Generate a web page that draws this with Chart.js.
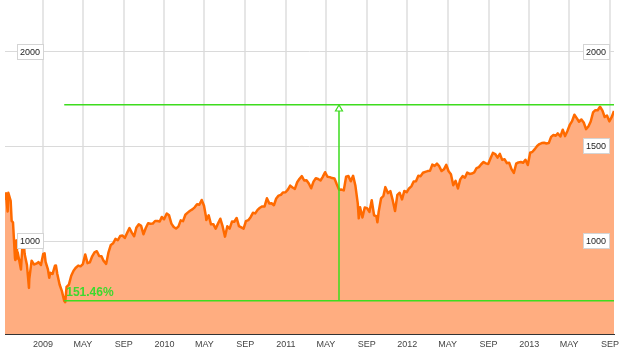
<!DOCTYPE html>
<html>
<head>
<meta charset="utf-8">
<script src="https://cdn.jsdelivr.net/npm/chart.js@4"></script>
<style>
  html, body { margin: 0; padding: 0; background: #fff; }
  #wrap { width: 627px; height: 353px; }
</style>
</head>
<body>
<div id="wrap"><canvas id="chart" width="627" height="353"></canvas></div>
<script>
// S&P 500, Sep 2008 - Sep 2013
const dates = [
  '2008-09-09','2008-09-12','2008-09-15','2008-09-17','2008-09-19','2008-09-26','2008-09-29','2008-10-03',
  '2008-10-09','2008-10-10','2008-10-13','2008-10-15','2008-10-17','2008-10-24','2008-10-27','2008-10-31',
  '2008-11-04','2008-11-07','2008-11-14','2008-11-20','2008-11-21','2008-11-28','2008-12-05','2008-12-12',
  '2008-12-19','2008-12-26',
  '2009-01-02','2009-01-06','2009-01-09','2009-01-16','2009-01-20','2009-01-23','2009-01-30','2009-02-06',
  '2009-02-09','2009-02-13','2009-02-20','2009-02-27','2009-03-06','2009-03-09','2009-03-13','2009-03-20',
  '2009-03-27','2009-04-03','2009-04-09','2009-04-17','2009-04-24','2009-05-01','2009-05-08','2009-05-15',
  '2009-05-22','2009-05-29','2009-06-05','2009-06-12','2009-06-19','2009-06-26','2009-07-02','2009-07-10',
  '2009-07-17','2009-07-24','2009-07-31','2009-08-07','2009-08-14','2009-08-21','2009-08-28','2009-09-04',
  '2009-09-11','2009-09-18','2009-09-25','2009-10-02','2009-10-09','2009-10-16','2009-10-23','2009-10-30',
  '2009-11-06','2009-11-13','2009-11-20','2009-11-27','2009-12-04','2009-12-11','2009-12-18','2009-12-24',
  '2009-12-31',
  '2010-01-08','2010-01-15','2010-01-22','2010-01-29','2010-02-05','2010-02-12','2010-02-19','2010-02-26',
  '2010-03-05','2010-03-12','2010-03-19','2010-03-26','2010-04-02','2010-04-09','2010-04-16','2010-04-23',
  '2010-04-30','2010-05-06','2010-05-07','2010-05-14','2010-05-21','2010-05-28','2010-06-04','2010-06-11',
  '2010-06-18','2010-06-25','2010-07-02','2010-07-09','2010-07-16','2010-07-23','2010-07-30','2010-08-06',
  '2010-08-13','2010-08-20','2010-08-27','2010-09-03','2010-09-10','2010-09-17','2010-09-24','2010-10-01',
  '2010-10-08','2010-10-15','2010-10-22','2010-10-29','2010-11-05','2010-11-12','2010-11-19','2010-11-26',
  '2010-12-03','2010-12-10','2010-12-17','2010-12-23','2010-12-31',
  '2011-01-07','2011-01-14','2011-01-21','2011-01-28','2011-02-04','2011-02-11','2011-02-18','2011-02-25',
  '2011-03-04','2011-03-11','2011-03-18','2011-03-25','2011-04-01','2011-04-08','2011-04-15','2011-04-21',
  '2011-04-29','2011-05-06','2011-05-13','2011-05-20','2011-05-27','2011-06-03','2011-06-10','2011-06-17',
  '2011-06-24','2011-07-01','2011-07-08','2011-07-15','2011-07-22','2011-07-29','2011-08-05','2011-08-08',
  '2011-08-12','2011-08-19','2011-08-26','2011-09-02','2011-09-09','2011-09-16','2011-09-23','2011-09-30',
  '2011-10-03','2011-10-07','2011-10-14','2011-10-21','2011-10-27','2011-11-04','2011-11-11','2011-11-18',
  '2011-11-25','2011-12-02','2011-12-09','2011-12-16','2011-12-23','2011-12-30',
  '2012-01-06','2012-01-13','2012-01-20','2012-01-27','2012-02-03','2012-02-10','2012-02-17','2012-02-24',
  '2012-03-02','2012-03-09','2012-03-16','2012-03-23','2012-03-30','2012-04-05','2012-04-13','2012-04-20',
  '2012-04-27','2012-05-04','2012-05-11','2012-05-18','2012-05-25','2012-06-01','2012-06-08','2012-06-15',
  '2012-06-22','2012-06-29','2012-07-06','2012-07-13','2012-07-20','2012-07-27','2012-08-03','2012-08-10',
  '2012-08-17','2012-08-24','2012-08-31','2012-09-07','2012-09-14','2012-09-21','2012-09-28','2012-10-05',
  '2012-10-12','2012-10-19','2012-10-26','2012-11-02','2012-11-09','2012-11-16','2012-11-23','2012-11-30',
  '2012-12-07','2012-12-14','2012-12-21','2012-12-28',
  '2013-01-04','2013-01-11','2013-01-18','2013-01-25','2013-02-01','2013-02-08','2013-02-15','2013-02-22',
  '2013-03-01','2013-03-08','2013-03-15','2013-03-22','2013-03-28','2013-04-05','2013-04-12','2013-04-19',
  '2013-04-26','2013-05-03','2013-05-10','2013-05-17','2013-05-24','2013-05-31','2013-06-07','2013-06-14',
  '2013-06-21','2013-06-28','2013-07-05','2013-07-12','2013-07-19','2013-07-26','2013-08-02','2013-08-09',
  '2013-08-16','2013-08-23','2013-08-30','2013-09-06','2013-09-13'
];
const closes = [
  1224, 1252, 1193, 1156, 1255, 1213, 1106, 1099,
  910, 899, 1003, 908, 941, 877, 849, 969,
  1006, 931, 873, 752, 800, 896, 876, 880,
  888, 873,
  932, 935, 890, 850, 805, 832, 826, 869,
  870, 827, 770, 735, 683, 677, 757, 769,
  816, 843, 857, 870, 866, 878, 929, 883,
  887, 919, 940, 946, 921, 919, 896, 879,
  940, 979, 988, 1011, 1004, 1026, 1029, 1016,
  1043, 1068, 1044, 1025, 1072, 1088, 1080, 1036,
  1069, 1094, 1091, 1092, 1106, 1106, 1103, 1127,
  1115,
  1145, 1136, 1092, 1074, 1066, 1076, 1109, 1105,
  1139, 1150, 1160, 1167, 1178, 1194, 1192, 1217,
  1187, 1128, 1111, 1136, 1088, 1089, 1065, 1092,
  1118, 1077, 1023, 1078, 1065, 1103, 1102, 1122,
  1079, 1072, 1065, 1105, 1110, 1126, 1149, 1146,
  1165, 1176, 1183, 1183, 1226, 1199, 1200, 1189,
  1225, 1240, 1244, 1257, 1258,
  1272, 1293, 1283, 1276, 1311, 1329, 1343, 1320,
  1321, 1304, 1279, 1314, 1332, 1328, 1320, 1337,
  1364, 1340, 1338, 1333, 1331, 1300, 1271, 1272,
  1268, 1340, 1344, 1316, 1345, 1292, 1199, 1120,
  1179, 1124, 1177, 1174, 1154, 1216, 1136, 1131,
  1099, 1156, 1225, 1238, 1285, 1253, 1264, 1216,
  1159, 1244, 1255, 1220, 1265, 1258,
  1278, 1289, 1315, 1316, 1345, 1343, 1361, 1366,
  1370, 1371, 1404, 1397, 1409, 1398, 1370, 1379,
  1403, 1369, 1353, 1295, 1318, 1278, 1326, 1343,
  1335, 1362, 1355, 1357, 1363, 1386, 1391, 1406,
  1418, 1411, 1407, 1438, 1466, 1460, 1441, 1461,
  1429, 1433, 1412, 1414, 1380, 1360, 1409, 1416,
  1418, 1414, 1430, 1402,
  1467, 1472, 1486, 1503, 1513, 1518, 1520, 1516,
  1518, 1551, 1561, 1557, 1569, 1553, 1589, 1555,
  1582, 1614, 1634, 1668, 1650, 1631, 1643, 1627,
  1592, 1606, 1632, 1680, 1692, 1692, 1710, 1691,
  1656, 1664, 1633, 1655, 1688
];

// x axis ticks (month starts) and their labels
const tickDates = [
  '2009-01-01','2009-05-01','2009-09-01','2010-01-01','2010-05-01','2010-09-01',
  '2011-01-01','2011-05-01','2011-09-01','2012-01-01','2012-05-01','2012-09-01',
  '2013-01-01','2013-05-01','2013-09-01'
];
const tickLabels = ['2009','MAY','SEP','2010','MAY','SEP','2011','MAY','SEP','2012','MAY','SEP','2013','MAY','SEP'];

// y axis
const yGridValues = [1000, 1500, 2000];
const leftLabels = [2000, 1000];
const rightLabels = [2000, 1500, 1000];

// gain annotation
const gainText = '151.46%';
const gainStartDate = '2009-03-09';
const gainArrowDate = '2011-06-11';
const gainLow = 685;
const gainHigh = 1722;

const toDay = s => Date.parse(s + 'T00:00:00Z') / 864e5;
const points = dates.map((d, i) => ({ x: toDay(d), y: closes[i] }));

const green = '#3ddc1e';

const overlay = {
  id: 'overlay',
  afterDatasetsDraw(chart) {
    const { ctx, scales: { x, y }, chartArea } = chart;
    ctx.save();

    // gain lines
    const x0 = x.getPixelForValue(toDay(gainStartDate)) - 1;
    const x1 = chartArea.right;
    const yLo = Math.round(y.getPixelForValue(gainLow));
    const yHi = Math.round(y.getPixelForValue(gainHigh));
    const xa = Math.round(x.getPixelForValue(toDay(gainArrowDate)));
    ctx.fillStyle = green;
    ctx.fillRect(x0, yLo - 1, x1 - x0, 1.5);
    ctx.fillRect(x0, yHi - 1, x1 - x0, 1.5);
    ctx.fillRect(xa - 0.75, yHi, 1.5, yLo - yHi);
    // open arrow head
    ctx.strokeStyle = green;
    ctx.lineWidth = 1.2;
    ctx.fillStyle = '#fff';
    ctx.beginPath();
    ctx.moveTo(xa, yHi);
    ctx.lineTo(xa - 3.5, yHi + 6);
    ctx.lineTo(xa + 3.5, yHi + 6);
    ctx.closePath();
    ctx.fill();
    ctx.stroke();

    ctx.fillStyle = '#3ed92e';
    ctx.font = 'bold 12px "Liberation Sans", Arial, sans-serif';
    ctx.textBaseline = 'alphabetic';
    ctx.textAlign = 'left';
    ctx.fillText(gainText, x0 + 2, yLo - 5);

    // boxed value labels
    ctx.font = '9px "Liberation Sans", Arial, sans-serif';
    ctx.textBaseline = 'middle';
    const box = (v, left) => {
      const t = String(v);
      const w = Math.ceil(ctx.measureText(t).width) + 6;
      const h = 16;
      const py = Math.round(y.getPixelForValue(v));
      const bx = left ? chartArea.left + 12 : chartArea.right - 31;
      ctx.fillStyle = '#fff';
      ctx.fillRect(bx, py - 8, w, h);
      ctx.strokeStyle = '#d4d4d4';
      ctx.lineWidth = 1;
      ctx.strokeRect(bx + 0.5, py - 7.5, w - 1, h - 1);
      ctx.fillStyle = '#222';
      ctx.textAlign = 'left';
      ctx.fillText(t, bx + 3, py + 0.5);
    };
    leftLabels.forEach(v => box(v, true));
    rightLabels.forEach(v => box(v, false));

    ctx.restore();
  }
};

new Chart(document.getElementById('chart'), {
  type: 'line',
  data: {
    datasets: [{
      data: points,
      borderColor: '#ff6a00',
      backgroundColor: '#ffad80',
      borderWidth: 2.5,
      fill: 'start',
      pointRadius: 0,
      tension: 0,
      borderJoinStyle: 'round'
    }]
  },
  options: {
    responsive: false,
    animation: false,
    layout: { padding: { left: 5, right: 13, top: 0, bottom: 0 } },
    plugins: { legend: { display: false }, tooltip: { enabled: false } },
    scales: {
      x: {
        type: 'linear',
        min: toDay(dates[0]),
        max: toDay(dates[dates.length - 1]),
        afterBuildTicks: s => { s.ticks = tickDates.map(d => ({ value: toDay(d) })); },
        afterFit: s => { s.height = 19; },
        grid: { color: '#e6e6e6', lineWidth: 2, drawTicks: false },
        border: { display: true, color: '#333', width: 1 },
        ticks: {
          autoSkip: false,
          maxRotation: 0,
          padding: 5,
          color: '#444',
          font: { family: '"Liberation Sans", Arial, sans-serif', size: 9 },
          callback: (v, i) => tickLabels[i]
        }
      },
      y: {
        min: 508,
        max: 2275,
        afterBuildTicks: s => { s.ticks = yGridValues.map(v => ({ value: v })); },
        afterFit: s => { s.width = 0; },
        grid: { color: '#dadada', lineWidth: 1, drawTicks: false },
        border: { display: false },
        ticks: { display: false }
      }
    }
  },
  plugins: [overlay]
});
</script>
</body>
</html>
